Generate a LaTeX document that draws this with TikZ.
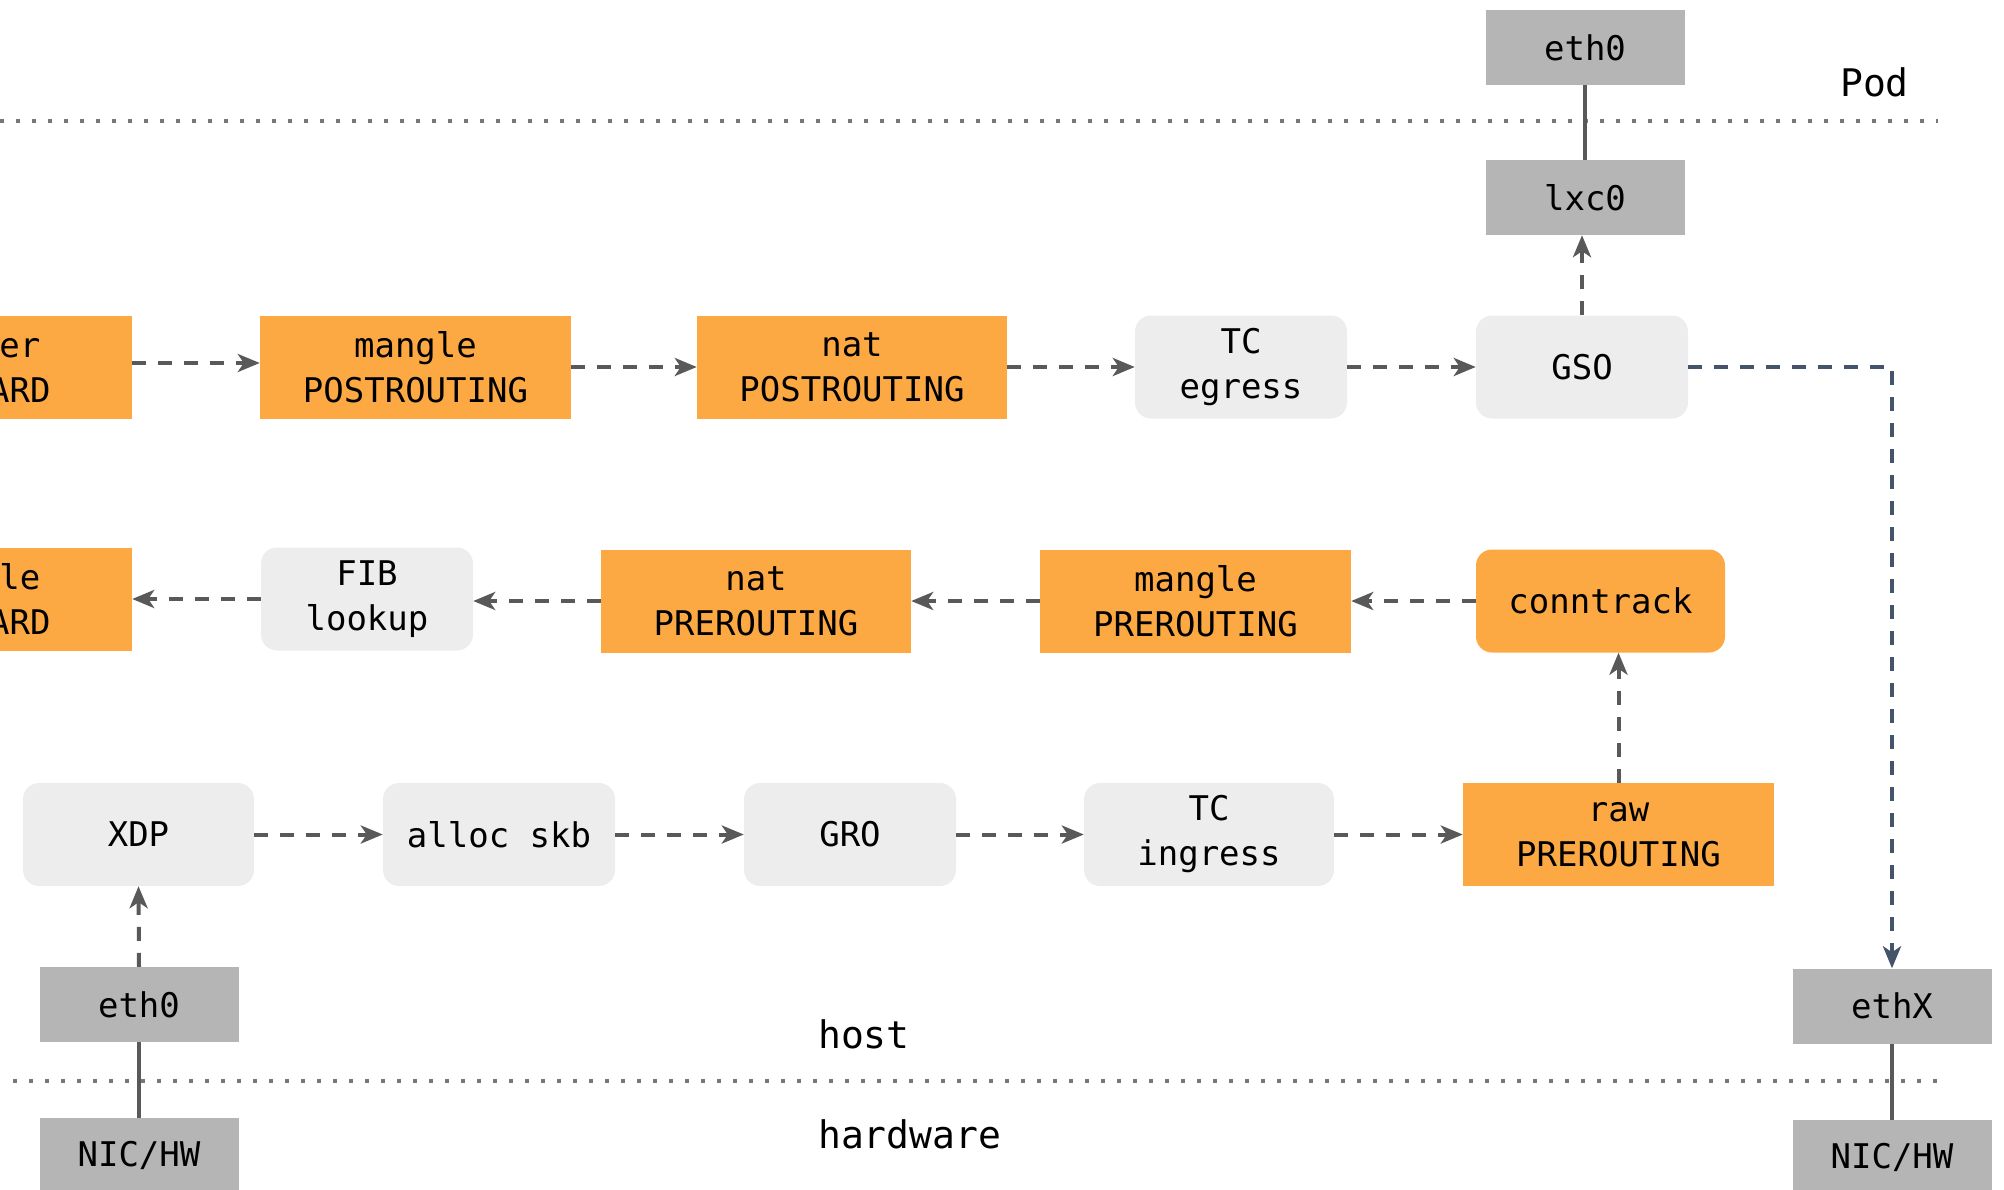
\documentclass[tikz,border=0pt]{standalone}
\usepackage{fontspec}
\newfontfamily\monofont{DejaVu Sans Mono}
\usetikzlibrary{arrows.meta}
\definecolor{hookorange}{HTML}{FDA943}
\definecolor{stagegray}{HTML}{EDEDED}
\definecolor{devgray}{HTML}{B5B5B5}
\definecolor{linkgray}{HTML}{595959}
\definecolor{linkblue}{HTML}{44546A}
\definecolor{dotgray}{HTML}{777777}

\begin{document}
\begin{tikzpicture}[x=1pt,y=-1pt,
  box/.style={minimum height=103pt, inner sep=0pt, align=center,
    font=\monofont\fontsize{34}{45}\selectfont, text=black},
  hook/.style={box, fill=hookorange},
  hookround/.style={hook, rounded corners=16pt},
  stage/.style={box, fill=stagegray, rounded corners=16pt},
  dev/.style={box, fill=devgray, minimum height=75pt, minimum width=199pt},
  flow/.style={draw=linkgray, line width=4pt, dash pattern=on 14pt off 12pt,
    -{Stealth[length=22pt,width=18pt,inset=6pt]}},
  egress/.style={draw=linkblue, line width=4pt, dash pattern=on 14pt off 12pt,
    -{Stealth[length=22pt,width=18pt,inset=6pt]}},
  wire/.style={draw=linkgray, line width=3.5pt},
  layer/.style={draw=dotgray, line width=4pt, dash pattern=on 4pt off 12pt},
  zone/.style={font=\monofont\fontsize{38}{44}\selectfont, text=black, inner sep=0pt}
]
\useasboundingbox (0,0) rectangle (2004,1190);
\clip (0,0) rectangle (2004,1190);

% layer separators
\coordinate (podL) at (0,121);
\coordinate (podR) at (1938,121);
\coordinate (hwL) at (13,1081);
\coordinate (hwR) at (1938,1081);
\draw[layer] (podL) -- (podR);
\draw[layer] (hwL) -- (hwR);

% layer names
\node[zone, anchor=base west] (podlabel) at (1840,97) {Pod};
\node[zone, anchor=base west] (hostlabel) at (818,1048) {host};
\node[zone, anchor=base west] (hwlabel) at (818,1148) {hardware};

% egress path
\node[hook, minimum width=306pt] (fwdout) at (-21,367) {filter\\FORWARD};
\node[hook, minimum width=311pt] (manglepost) at (415.5,367) {mangle\\POSTROUTING};
\node[hook, minimum width=310pt] (natpost) at (852,367) {nat\\POSTROUTING};
\node[stage, minimum width=212pt] (tcegress) at (1241,367) {TC\\egress};
\node[stage, minimum width=212pt] (gso) at (1582,367) {GSO};

% pod devices
\node[dev] (lxc) at (1585,197.5) {lxc0};
\node[dev] (podeth) at (1585,47.5) {eth0};

% routing path
\node[hook, minimum width=306pt] (fwdin) at (-21,599) {mangle\\FORWARD};
\node[stage, minimum width=212pt] (fib) at (367,599) {FIB\\lookup};
\node[hook, minimum width=310pt] (natpre) at (756,601) {nat\\PREROUTING};
\node[hook, minimum width=311pt] (manglepre) at (1195.5,601) {mangle\\PREROUTING};
\node[hookround, minimum width=249pt] (ct) at (1600.5,601) {conntrack};

% ingress path
\node[stage, minimum width=231pt] (xdp) at (138.5,834.5) {XDP};
\node[stage, minimum width=232pt] (alloc) at (499,834.5) {alloc skb};
\node[stage, minimum width=212pt] (gro) at (850,834.5) {GRO};
\node[stage, minimum width=250pt] (tcingress) at (1209,834.5) {TC\\ingress};
\node[hook, minimum width=311pt] (rawpre) at (1618.5,834.5) {raw\\PREROUTING};

% host devices
\node[dev] (heth) at (139,1004.5) {eth0};
\node[dev] (hnic) at (139,1155.5) {NIC/HW};
\node[dev] (ethx) at (1892,1006) {ethX};
\node[dev] (xnic) at (1892,1157.5) {NIC/HW};

% physical links
\draw[wire] (podeth.south) -- (lxc.north);
\draw[wire] (hnic.north) -- (heth.south);
\draw[wire] (xnic.north) -- (ethx.south);

% packet flow
\draw[flow] (heth.north) -- (xdp.south);
\draw[flow] (xdp) -- (alloc);
\draw[flow] (alloc) -- (gro);
\draw[flow] (gro) -- (tcingress);
\draw[flow] (tcingress) -- (rawpre);
\draw[flow] (rawpre.north) -- (rawpre.north |- ct.south);
\draw[flow] (ct.west) -- (manglepre.east |- ct.west);
\draw[flow] (manglepre) -- (natpre);
\draw[flow] (natpre.west) -- (fib.east |- natpre.west);
\draw[flow] (fib) -- (fwdin);
\draw[flow] (fwdout.east |- 0,363) -- (manglepost.west |- 0,363);
\draw[flow] (manglepost) -- (natpost);
\draw[flow] (natpost) -- (tcegress);
\draw[flow] (tcegress) -- (gso);
\draw[flow] (gso.north) -- (gso.north |- lxc.south);
\draw[egress] (gso.east) -| (ethx.north);
\end{tikzpicture}
\end{document}
